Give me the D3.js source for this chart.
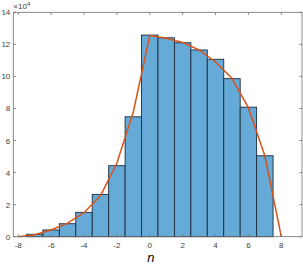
<!DOCTYPE html>
<html lang="en">
<head>
    <meta charset="UTF-8">
    <script src="https://d3js.org/d3.v7.min.js"></script>
    <style>
        body { margin: 0; background: #fff; }
        text { font-family: "Liberation Sans", Arial, sans-serif; }
    </style>
    <title>Histogram</title>
</head>
<body>
    <div id="chart"></div>
    <script>

        // histogram bins (centers) and counts in units of 10^4
        const binCenters = [-7, -6, -5, -4, -3, -2, -1, 0, 1, 2, 3, 4, 5, 6, 7];
        const binCounts = [0.15, 0.42, 0.81, 1.52, 2.64, 4.43, 7.48, 12.58, 12.41, 12.1, 11.65, 11.07, 9.86, 8.08, 5.05];

        // fitted curve
        const curveN = [-8, -7, -6, -5, -4, -3, -2, -1, 0, 1, 2, 3, 4, 5, 6, 7, 8];
        const curveVal = [0, 0.12, 0.42, 0.85, 1.5, 2.55, 4.6, 7.78, 12.55, 12.38, 12.12, 11.65, 10.9, 9.88, 8.05, 5.05, 0];

        const xTicks = [-8, -6, -4, -2, 0, 2, 4, 6, 8];
        const yTicks = [0, 2, 4, 6, 8, 10, 12, 14];

        var width = 303;
        var height = 267;
        var pLeft = 13.3, pRight = 302, pTop = 12.3, pBottom = 236.7;

        var svg = d3.select("#chart")
            .append("svg")
            .attr("width", width)
            .attr("height", height);

        var x = d3.scaleLinear().domain([-8.3, 9.26]).range([pLeft, pRight]);
        var y = d3.scaleLinear().domain([0, 14]).range([pBottom, pTop]);

        var axisColor = "#6e6e6e";
        var tickLen = 2.7;

        // bars
        svg.selectAll(".bar")
            .data(binCenters)
            .enter().append("rect")
            .attr("class", "bar")
            .attr("x", function(d) { return x(d - 0.5); })
            .attr("width", function(d) { return x(d + 0.5) - x(d - 0.5); })
            .attr("y", function(d, i) { return y(binCounts[i]); })
            .attr("height", function(d, i) { return y(0) - y(binCounts[i]); })
            .attr("fill", "#66aad7")
            .attr("stroke", "#1c2c3c")
            .attr("stroke-width", 0.9);

        // curve
        var line = d3.line()
            .x(function(d, i) { return x(curveN[i]); })
            .y(function(d) { return y(d); });

        svg.append("path")
            .datum(curveVal)
            .attr("d", line)
            .attr("fill", "none")
            .attr("stroke", "#d95319")
            .attr("stroke-width", 1.5)
            .attr("stroke-linejoin", "round");

        // axes box
        svg.append("rect")
            .attr("x", pLeft)
            .attr("y", pTop)
            .attr("width", pRight - pLeft)
            .attr("height", pBottom - pTop)
            .attr("fill", "none")
            .attr("stroke", axisColor)
            .attr("stroke-width", 0.8);

        // x ticks (bottom and top)
        var xt = svg.append("g");
        xTicks.forEach(function(t) {
            xt.append("line").attr("x1", x(t)).attr("x2", x(t))
                .attr("y1", pBottom).attr("y2", pBottom - tickLen)
                .attr("stroke", axisColor).attr("stroke-width", 0.8);
            xt.append("line").attr("x1", x(t)).attr("x2", x(t))
                .attr("y1", pTop).attr("y2", pTop + tickLen)
                .attr("stroke", axisColor).attr("stroke-width", 0.8);
            xt.append("text")
                .attr("x", x(t))
                .attr("y", pBottom + 11.5)
                .attr("text-anchor", "middle")
                .attr("font-size", "8px")
                .attr("fill", "#404040")
                .text(t);
        });

        // y ticks (left and right)
        var yt = svg.append("g");
        yTicks.forEach(function(t) {
            yt.append("line").attr("x1", pLeft).attr("x2", pLeft + tickLen)
                .attr("y1", y(t)).attr("y2", y(t))
                .attr("stroke", axisColor).attr("stroke-width", 0.8);
            yt.append("line").attr("x1", pRight).attr("x2", pRight - tickLen)
                .attr("y1", y(t)).attr("y2", y(t))
                .attr("stroke", axisColor).attr("stroke-width", 0.8);
            yt.append("text")
                .attr("x", pLeft - 3)
                .attr("y", y(t) + 3)
                .attr("text-anchor", "end")
                .attr("font-size", "8px")
                .attr("fill", "#404040")
                .text(t);
        });

        // exponent label
        var ex = svg.append("text")
            .attr("x", pLeft)
            .attr("y", 9)
            .attr("font-size", "8px")
            .attr("fill", "#404040");
        ex.append("tspan").text("\u00d710");
        ex.append("tspan").attr("font-size", "6px").attr("dy", -3).text("4");

        // x label
        svg.append("text")
            .attr("x", x(0) + 1)
            .attr("y", 262)
            .attr("text-anchor", "middle")
            .attr("font-size", "13px")
            .attr("font-style", "italic")
            .attr("font-family", "'Liberation Serif', 'DejaVu Serif', serif")
            .attr("fill", "#000")
            .text("n");
    </script>
</body>
</html>
